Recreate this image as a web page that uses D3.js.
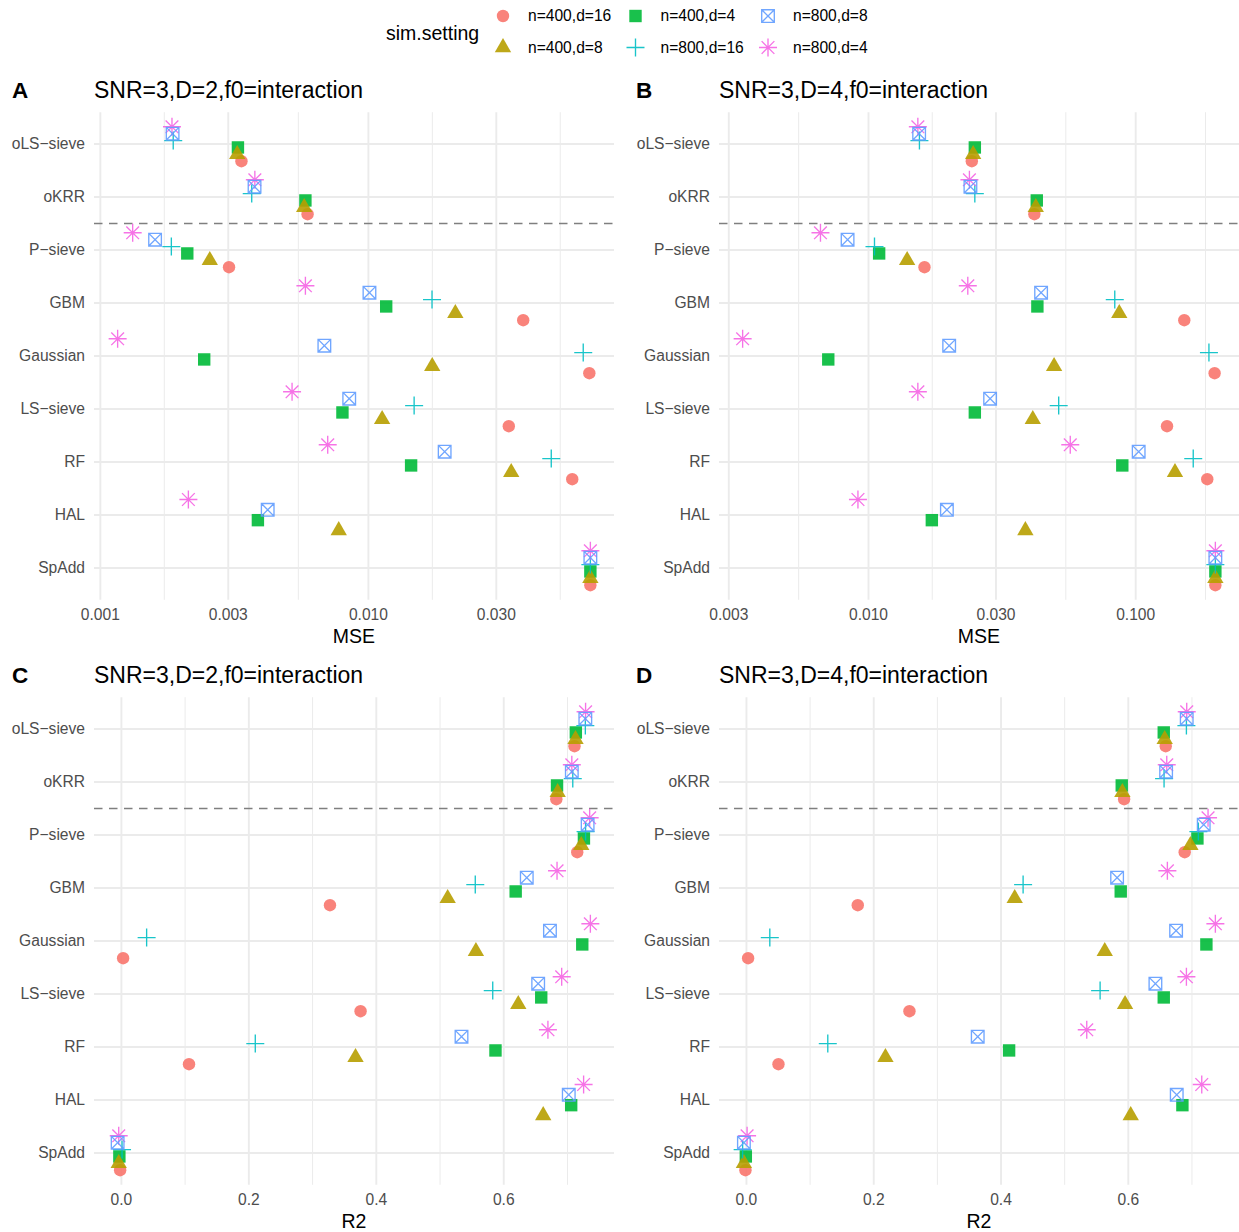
<!DOCTYPE html>
<html><head><meta charset="utf-8">
<script src="https://cdn.jsdelivr.net/npm/d3@7"></script>
<style>body{margin:0;background:#fff;} text{font-family:"Liberation Sans", Arial, sans-serif;}</style>
</head><body><svg id="c" width="1239" height="1232"></svg>
<script>
// ---------- data ----------
const methods = ["oLS\u2212sieve","oKRR","P\u2212sieve","GBM","Gaussian","LS\u2212sieve","RF","HAL","SpAdd"];
const settings = ["n=400,d=16","n=400,d=8","n=400,d=4","n=800,d=16","n=800,d=8","n=800,d=4"];
const colors = ["#F8766D","#B79F00","#00BA38","#00BFC4","#619CFF","#F564E3"];
const shapes = ["circle","triangle","square","plus","boxx","asterisk"];

// Panel A: MSE, SNR=3, D=2 (one array per setting, values by method)
const mseD2_n400d16 = [0.00336,0.00593,0.00302,0.0378,0.0667,0.0334,0.0576,null,0.0673];
const mseD2_n400d8  = [0.00324,0.00576,0.00256,0.0211,0.0173,0.01125,0.0341,0.00775,0.0673];
const mseD2_n400d4  = [0.00326,0.00582,0.00211,0.01165,0.00244,0.0080,0.01443,0.00387,0.0673];
const mseD2_n800d16 = [0.00187,0.00367,0.00184,0.01727,0.0633,0.01481,0.0481,null,0.0673];
const mseD2_n800d8  = [0.00186,0.00376,0.00160,0.01009,0.00685,0.00848,0.01925,0.00421,0.0673];
const mseD2_n800d4  = [0.00185,0.00377,0.00132,0.00582,0.00116,0.00519,0.00705,0.00213,0.0673];

// Panel B: MSE, SNR=3, D=4
const mseD4_n400d16 = [0.02436,0.04176,0.0162,0.152,0.1974,0.131,0.1853,null,0.1987];
const mseD4_n400d8  = [0.02464,0.04227,0.01395,0.0868,0.0495,0.0412,0.1403,0.03865,0.1987];
const mseD4_n400d4  = [0.0250,0.04264,0.01096,0.04286,0.00707,0.0250,0.0891,0.01726,0.1987];
const mseD4_n800d16 = [0.01551,0.0250,0.01053,0.0835,0.188,0.0515,0.1642,null,0.1987];
const mseD4_n800d8  = [0.01547,0.02407,0.00835,0.04425,0.02004,0.02852,0.1026,0.01965,0.1987];
const mseD4_n800d4  = [0.0153,0.02386,0.00661,0.02353,0.00338,0.0153,0.0569,0.00913,0.1987];

// Panel C: R2, SNR=3, D=2
const r2D2_n400d16 = [0.711,0.6825,0.7153,0.3273,0.0027,0.3753,0.1061,null,-0.002];
const r2D2_n400d8  = [0.7126,0.6846,0.7216,0.512,0.5563,0.6228,0.3674,0.6619,-0.0042];
const r2D2_n400d4  = [0.7131,0.6836,0.7258,0.6187,0.7232,0.6588,0.587,0.7058,-0.0032];
const r2D2_n800d16 = [0.728,0.7083,0.7284,0.5553,0.0396,0.5827,0.2101,null,0.001];
const r2D2_n800d8  = [0.728,0.7068,0.7316,0.6361,0.6725,0.654,0.5337,0.702,-0.0059];
const r2D2_n800d4  = [0.7284,0.7068,0.7348,0.6836,0.7359,0.6909,0.6693,0.7253,-0.0042];

// Panel D: R2, SNR=3, D=4
const r2D4_n400d16 = [0.6588,0.5934,0.6886,0.1749,0.0026,0.2561,0.0503,null,-0.0016];
const r2D4_n400d8  = [0.6572,0.5907,0.6976,0.4215,0.563,0.5949,0.2184,0.6038,-0.004];
const r2D4_n400d4  = [0.6557,0.5897,0.7086,0.5881,0.7227,0.6557,0.4127,0.685,-0.001];
const r2D4_n800d16 = [0.6913,0.6562,0.7101,0.4347,0.0367,0.5557,0.1278,null,-0.006];
const r2D4_n800d8  = [0.6918,0.6594,0.7185,0.5824,0.6751,0.6426,0.3634,0.6761,-0.004];
const r2D4_n800d4  = [0.6918,0.6604,0.7253,0.6614,0.7368,0.6913,0.5347,0.7154,0.001];

const ticksMseA = [0.001,0.003,0.01,0.03];
const ticksMseB = [0.003,0.01,0.03,0.1];
const ticksR2 = [0,0.2,0.4,0.6];
const tags = ["A","B","C","D"];
const titles = ["SNR=3,D=2,f0=interaction","SNR=3,D=4,f0=interaction","SNR=3,D=2,f0=interaction","SNR=3,D=4,f0=interaction"];
const xTitles = ["MSE","MSE","R2","R2"];
const oracleBoundary = 2.5; // dashed separator after the two oracle methods (1-based position)

// ---------- drawing ----------
const svg = d3.select("#c");
const R = 6.2;
function drawShape(g, shape, x, y, col) {
  const op = 0.9;
  if (shape === "circle") {
    g.append("circle").attr("cx",x).attr("cy",y).attr("r",R).attr("fill",col).attr("fill-opacity",op);
  } else if (shape === "square") {
    g.append("rect").attr("x",x-R).attr("y",y-R).attr("width",2*R).attr("height",2*R).attr("fill",col).attr("fill-opacity",op);
  } else if (shape === "triangle") {
    const k = 0.98*R, r = 1.5551*k, xc = 1.3468*k, yc = 0.7776*k;
    g.append("path").attr("d",`M${x},${y-r}L${x+xc},${y+yc}L${x-xc},${y+yc}Z`).attr("fill",col).attr("fill-opacity",op);
  } else {
    const p = d3.path();
    const h = 9, s = 6.36;
    if (shape === "plus" || shape === "asterisk") {
      p.moveTo(x-h,y); p.lineTo(x+h,y); p.moveTo(x,y-h); p.lineTo(x,y+h);
    }
    if (shape === "asterisk") {
      p.moveTo(x-s,y-s); p.lineTo(x+s,y+s); p.moveTo(x-s,y+s); p.lineTo(x+s,y-s);
    }
    if (shape === "boxx") {
      const b = 6.3;
      p.rect(x-b,y-b,2*b,2*b);
      p.moveTo(x-b,y-b); p.lineTo(x+b,y+b); p.moveTo(x-b,y+b); p.lineTo(x+b,y-b);
    }
    g.append("path").attr("d",p.toString()).attr("fill","none").attr("stroke",col)
      .attr("stroke-width",1.35).attr("stroke-opacity",op);
  }
}

const panels = [
  {x0:94,x1:614,y0:112.2,y1:599.8,type:"log",ticks:ticksMseA,fmt:d3.format(".3f"),
   series:[mseD2_n400d16,mseD2_n400d8,mseD2_n400d4,mseD2_n800d16,mseD2_n800d8,mseD2_n800d4],tagX:12,titleX:94,labX:85},
  {x0:719,x1:1239,y0:112.2,y1:599.8,type:"log",ticks:ticksMseB,fmt:d3.format(".3f"),
   series:[mseD4_n400d16,mseD4_n400d8,mseD4_n400d4,mseD4_n800d16,mseD4_n800d8,mseD4_n800d4],tagX:636,titleX:719,labX:710},
  {x0:94,x1:614,y0:697.2,y1:1184.8,type:"lin",ticks:ticksR2,fmt:d3.format(".1f"),
   series:[r2D2_n400d16,r2D2_n400d8,r2D2_n400d4,r2D2_n800d16,r2D2_n800d8,r2D2_n800d4],tagX:12,titleX:94,labX:85},
  {x0:719,x1:1239,y0:697.2,y1:1184.8,type:"lin",ticks:ticksR2,fmt:d3.format(".1f"),
   series:[r2D4_n400d16,r2D4_n400d8,r2D4_n400d4,r2D4_n800d16,r2D4_n800d8,r2D4_n800d4],tagX:636,titleX:719,labX:710}
];

panels.forEach((P, pi) => {
  const g = svg.append("g");
  const all = P.series.flat().filter(v => v != null);
  let x, tf, inv;
  if (P.type === "log") { tf = Math.log10; inv = v => Math.pow(10, v); }
  else { tf = v => v; inv = v => v; }
  const lo = tf(d3.min(all)), hi = tf(d3.max(all)), pad = (hi - lo) * 0.05;
  x = (P.type === "log" ? d3.scaleLog() : d3.scaleLinear()).domain([inv(lo-pad), inv(hi+pad)]).range([P.x0, P.x1]);
  const y = d3.scalePoint().domain(methods).range([P.y0, P.y1]).padding(0.6);

  // minor grid (ggplot style: midpoints between majors in transformed space)
  const tb = P.ticks.map(tf);
  const bd = tb[1] - tb[0];
  const ext = [tb[0]-bd, ...tb, tb[tb.length-1]+bd];
  const minors = [];
  for (let i = 0; i < ext.length-1; i++) minors.push(inv((ext[i]+ext[i+1])/2));
  const dom = x.domain();
  minors.filter(v => v >= dom[0] && v <= dom[1]).forEach(v => {
    g.append("line").attr("x1",x(v)).attr("x2",x(v)).attr("y1",P.y0).attr("y2",P.y1)
      .attr("stroke","#EBEBEB").attr("stroke-width",1);
  });
  P.ticks.forEach(v => {
    g.append("line").attr("x1",x(v)).attr("x2",x(v)).attr("y1",P.y0).attr("y2",P.y1)
      .attr("stroke","#EBEBEB").attr("stroke-width",1.9);
  });
  methods.forEach(m => {
    g.append("line").attr("x1",P.x0).attr("x2",P.x1).attr("y1",y(m)).attr("y2",y(m))
      .attr("stroke","#EBEBEB").attr("stroke-width",1.9);
  });
  // dashed separator
  const yd = y(methods[0]) + (oracleBoundary - 1) * y.step();
  g.append("line").attr("x1",P.x0).attr("x2",P.x1).attr("y1",yd).attr("y2",yd)
    .attr("stroke","#7F7F7F").attr("stroke-width",1.5).attr("stroke-dasharray","8.5,6.5");

  // points (dodged vertically)
  const drawOrder = settings.map((s,i)=>i).sort((a,b)=> settings[a] < settings[b] ? -1 : 1);
  methods.forEach((m, mi) => {
    const present = settings.map((s,i)=>i).filter(i => P.series[i][mi] != null).reverse();
    const dodge = d3.scaleBand().domain(present).range([-0.39*y.step(), 0.39*y.step()]);
    drawOrder.forEach(si => {
      const v = P.series[si][mi];
      if (v == null) return;
      drawShape(g, shapes[si], x(v), y(m) + dodge(si) + dodge.bandwidth()/2, colors[si]);
    });
  });

  // axis labels
  methods.forEach(m => {
    g.append("text").attr("x",P.labX).attr("y",y(m)).attr("dy","0.35em").attr("text-anchor","end")
      .attr("font-size",15.6).attr("fill","#4D4D4D").text(m);
  });
  P.ticks.forEach(v => {
    g.append("text").attr("x",x(v)).attr("y",P.y1+20).attr("text-anchor","middle")
      .attr("font-size",15.6).attr("fill","#4D4D4D").text(P.fmt(v));
  });
  g.append("text").attr("x",(P.x0+P.x1)/2).attr("y",P.y1+43).attr("text-anchor","middle")
    .attr("font-size",19.5).attr("fill","#000").text(xTitles[pi]);
  g.append("text").attr("x",P.tagX).attr("y",P.y0-14).attr("font-size",22.5).attr("font-weight","bold").text(tags[pi]);
  g.append("text").attr("x",P.titleX).attr("y",P.y0-14).attr("font-size",23).text(titles[pi]);
});

// legend
const lg = svg.append("g");
lg.append("text").attr("x",386).attr("y",39.5).attr("font-size",19.5).text("sim.setting");
settings.forEach((s, i) => {
  const col = Math.floor(i/2), row = i%2;
  const kx = 503 + col*132.5, ky = 16 + row*31.5;
  drawShape(lg, shapes[i], kx, ky, colors[i]);
  lg.append("text").attr("x",kx+25).attr("y",ky).attr("dy","0.35em").attr("font-size",15.6).text(s);
});
</script></body></html>
